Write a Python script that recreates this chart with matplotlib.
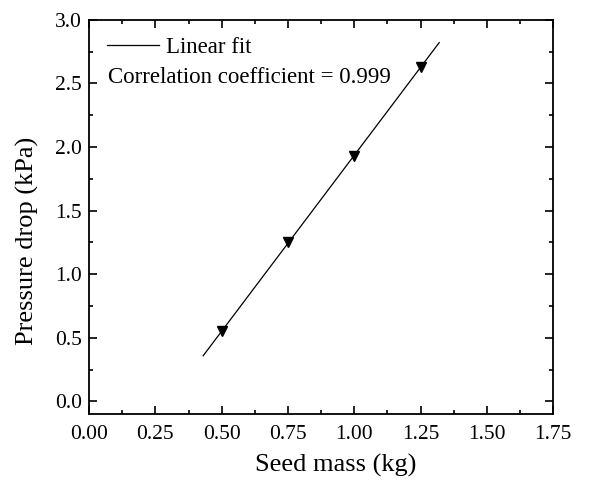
import numpy as np
import matplotlib
matplotlib.use("Agg")
import matplotlib.pyplot as plt
from matplotlib.ticker import MultipleLocator

# data
seed_mass = [0.50, 0.75, 1.00, 1.25]
pressure_drop = [0.55, 1.25, 1.93, 2.63]
fit_range = [0.43, 1.32]

plt.rcParams["font.family"] = "Liberation Serif"

fig = plt.figure(figsize=(6.10, 4.86), dpi=100)
ax = fig.add_axes([0.146, 0.148, 0.761, 0.811])

slope, icpt = np.polyfit(seed_mass, pressure_drop, 1)
xf = np.array(fit_range)
ax.plot(xf, slope * xf + icpt, color="black", linewidth=0.9, label="Linear fit")
ax.plot(seed_mass, pressure_drop, linestyle="none", marker="v", color="black",
        markersize=6.5)

ax.set_xlim(0, 1.75)
ax.set_ylim(-0.1, 3.0)
ax.xaxis.set_major_locator(MultipleLocator(0.25))
ax.xaxis.set_minor_locator(MultipleLocator(0.125))
ax.yaxis.set_major_locator(MultipleLocator(0.5))
ax.yaxis.set_minor_locator(MultipleLocator(0.25))
ax.xaxis.set_major_formatter(plt.FormatStrFormatter("%.2f"))
ax.yaxis.set_major_formatter(plt.FormatStrFormatter("%.1f"))
ax.tick_params(which="both", direction="in", top=True, right=True, labelsize=15.5, width=1.2)
ax.tick_params(which="major", length=6, pad=5)
ax.tick_params(axis="x", which="major", pad=8)
ax.tick_params(which="minor", length=3)
for s in ax.spines.values():
    s.set_linewidth(1.3)

ax.set_xlabel("Seed mass (kg)", fontsize=19)
ax.set_ylabel("Pressure drop (kPa)", fontsize=19)
ax.xaxis.set_label_coords(0.532, -0.102)
ax.yaxis.set_label_coords(-0.108, 0.44)

ax.legend(loc="center left", frameon=False, fontsize=16.5, handlelength=2.27,
          handletextpad=0.3, borderpad=0, borderaxespad=0,
          bbox_to_anchor=(0.039, 0.929))
ax.text(0.041, 0.855, "Correlation coefficient = 0.999", transform=ax.transAxes,
        fontsize=16.5, va="center", ha="left")

fig.savefig("out.png", dpi=100)
